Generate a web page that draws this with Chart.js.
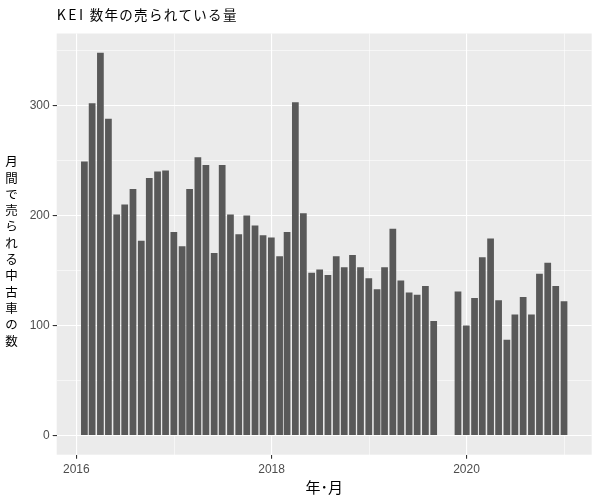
<!DOCTYPE html>
<html>
<head>
<meta charset="utf-8">
<script src="https://cdn.jsdelivr.net/npm/chart.js@4.4.1/dist/chart.umd.min.js"></script>
<style>
  html, body { margin: 0; padding: 0; background: #fff; }
</style>
</head>
<body>
<canvas id="kei" width="600" height="500"></canvas>
<script>
// KEI - monthly used car sales (2019-09 and 2019-10 missing)

var months = [
  '2016-01', '2016-02', '2016-03', '2016-04', '2016-05', '2016-06', '2016-07', '2016-08', '2016-09', '2016-10', '2016-11', '2016-12',
  '2017-01', '2017-02', '2017-03', '2017-04', '2017-05', '2017-06', '2017-07', '2017-08', '2017-09', '2017-10', '2017-11', '2017-12',
  '2018-01', '2018-02', '2018-03', '2018-04', '2018-05', '2018-06', '2018-07', '2018-08', '2018-09', '2018-10', '2018-11', '2018-12',
  '2019-01', '2019-02', '2019-03', '2019-04', '2019-05', '2019-06', '2019-07', '2019-08', '2019-11', '2019-12',
  '2020-01', '2020-02', '2020-03', '2020-04', '2020-05', '2020-06', '2020-07', '2020-08', '2020-09', '2020-10', '2020-11', '2020-12'
];
var sold = [
  249, 302, 348, 288, 201, 210, 224, 177, 234, 240, 241, 185,
  172, 224, 253, 246, 166, 246, 201, 183, 200, 191, 182, 180,
  163, 185, 303, 202, 148, 151, 146, 163, 153, 164, 153, 143,
  133, 153, 188, 141, 130, 128, 136, 104, 131, 100,
  125, 162, 179, 123, 87, 110, 126, 110, 147, 157, 136, 122
];
var xTickYears = [2016, 2017, 2018, 2019, 2020, 2021];
var xLabelYears = [2016, 2018, 2020];
var yTicks = [0, 50, 100, 150, 200, 250, 300, 350];
var yLabelTicks = [0, 100, 200, 300];

var titleText = 'KEI 数年の売られている量';
var xTitle = '年･月';
var yTitle = '月間で売られる中古車の数';

// each bar sits on the last day of its month, x in days
function monthEnd(ym) {
  var p = ym.split('-');
  return Date.UTC(+p[0], +p[1], 0) / 864e5;
}
function yearStart(y) {
  return Date.UTC(y, 0, 1) / 864e5;
}
function yearOf(day) {
  return new Date(day * 864e5).getUTCFullYear();
}

var points = months.map(function (m, i) {
  return { x: monthEnd(m), y: sold[i] };
});

// ggplot style range: bar width 0.9 * 28 days, then 5% expansion
var halfBar = 0.9 * 28 / 2;
var xLo = points[0].x - halfBar;
var xHi = points[points.length - 1].x + halfBar;
var xPad = (xHi - xLo) * 0.05;
var yMax = Math.max.apply(null, sold);

var panelBg = {
  id: 'panelBg',
  beforeDraw: function (chart) {
    var a = chart.chartArea;
    var c = chart.ctx;
    c.save();
    c.fillStyle = '#EBEBEB';
    c.fillRect(a.left, a.top, a.right - a.left, a.bottom - a.top);
    c.restore();
  }
};

var labels = {
  id: 'labels',
  afterDraw: function (chart) {
    var a = chart.chartArea;
    var c = chart.ctx;
    c.save();
    c.fillStyle = '#000';
    c.textBaseline = 'middle';
    c.textAlign = 'left';

    // title: spaced out a little, like the original font
    var parts = titleText.split(' ');
    c.font = '14px "Noto Sans CJK JP"';
    c.letterSpacing = '2.5px';
    c.fillText(parts[0], a.left, 15);
    c.font = '13.5px "Noto Sans CJK JP"';
    c.letterSpacing = '1.3px';
    c.fillText(parts[1], a.left + 33, 15);
    c.letterSpacing = '0px';

    c.font = '15px "Noto Sans CJK JP"';
    c.textAlign = 'center';
    c.fillText(xTitle, (a.left + a.right) / 2, 487);

    c.font = '12.5px "Noto Sans CJK JP"';
    var chars = Array.from(yTitle);
    for (var i = 0; i < chars.length; i++) {
      c.fillText(chars[i], 11.5, 161.5 + i * 16.3);
    }
    c.restore();
  }
};

var ctx = document.getElementById('kei').getContext('2d');
var chart = new Chart(ctx, {
  type: 'bar',
  data: {
    datasets: [{
      data: points,
      backgroundColor: '#595959',
      borderWidth: 0,
      barPercentage: 0.9,
      categoryPercentage: 1
    }]
  },
  options: {
    responsive: false,
    animation: false,
    devicePixelRatio: 1,
    layout: { padding: { left: 0, right: 8.3, top: 33.5, bottom: 0 } },
    plugins: {
      legend: { display: false },
      tooltip: { enabled: false }
    },
    scales: {
      x: {
        type: 'linear',
        offset: false,
        min: xLo - xPad,
        max: xHi + xPad,
        afterFit: function (s) { s.height = 45.3; },
        afterBuildTicks: function (s) {
          s.ticks = xTickYears.map(function (y) { return { value: yearStart(y) }; });
        },
        border: { display: false },
        grid: {
          offset: false,
          color: '#FFFFFF',
          lineWidth: function (c) { return c.tick && xLabelYears.indexOf(yearOf(c.tick.value)) >= 0 ? 1.1 : 0.55; },
          tickLength: 4,
          tickWidth: 1.1,
          tickColor: function (c) { return c.tick && xLabelYears.indexOf(yearOf(c.tick.value)) >= 0 ? '#333333' : 'rgba(0,0,0,0)'; }
        },
        ticks: {
          autoSkip: false,
          maxRotation: 0,
          padding: 4,
          color: '#4D4D4D',
          font: { family: '"Liberation Sans", Arial', size: 12 },
          callback: function (v) {
            var y = yearOf(v);
            return xLabelYears.indexOf(y) >= 0 ? String(y) : '';
          }
        }
      },
      y: {
        type: 'linear',
        min: -yMax * 0.05,
        max: yMax * 1.05,
        afterFit: function (s) { s.width = 56.7; },
        afterBuildTicks: function (s) {
          s.ticks = yTicks.map(function (v) { return { value: v }; });
        },
        border: { display: false },
        grid: {
          color: '#FFFFFF',
          lineWidth: function (c) { return c.tick && yLabelTicks.indexOf(c.tick.value) >= 0 ? 1.1 : 0.55; },
          tickLength: 4,
          tickWidth: 1.1,
          tickColor: function (c) { return c.tick && yLabelTicks.indexOf(c.tick.value) >= 0 ? '#333333' : 'rgba(0,0,0,0)'; }
        },
        ticks: {
          autoSkip: false,
          padding: 3,
          color: '#4D4D4D',
          font: { family: '"Liberation Sans", Arial', size: 12 },
          callback: function (v) {
            return yLabelTicks.indexOf(v) >= 0 ? String(v) : '';
          }
        }
      }
    }
  },
  plugins: [panelBg, labels]
});
</script>
</body>
</html>
